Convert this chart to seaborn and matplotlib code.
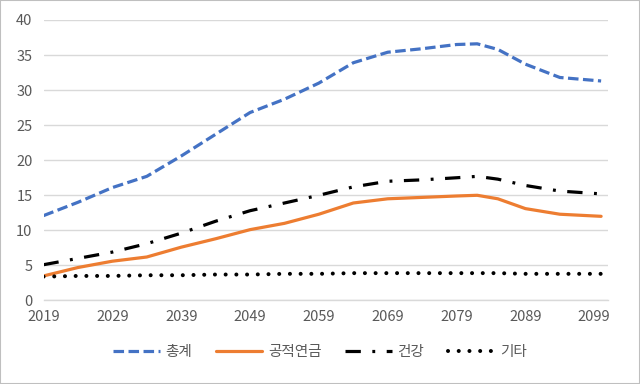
import matplotlib
matplotlib.use("Agg")
import matplotlib.pyplot as plt
import seaborn as sns
from matplotlib.patches import Rectangle

# 데이터
years = [2019, 2024, 2029, 2034, 2039, 2044, 2049, 2054, 2059,
         2064, 2069, 2074, 2079, 2082, 2085, 2089, 2094, 2100]
total = [12.1, 14.0, 16.1, 17.7, 20.6, 23.7, 26.8, 28.7, 31.0,
         33.9, 35.4, 35.9, 36.5, 36.6, 35.8, 33.7, 31.8, 31.3]
pension = [3.5, 4.7, 5.6, 6.2, 7.6, 8.8, 10.1, 11.0, 12.3,
           13.9, 14.5, 14.7, 14.9, 15.0, 14.5, 13.1, 12.3, 12.0]
health = [5.1, 6.0, 6.9, 8.1, 9.6, 11.3, 12.8, 13.9, 15.0,
          16.2, 17.0, 17.2, 17.5, 17.7, 17.3, 16.4, 15.6, 15.2]
other = [3.4, 3.5, 3.5, 3.6, 3.6, 3.7, 3.7, 3.8, 3.8,
         3.9, 3.9, 3.9, 3.9, 3.9, 3.9, 3.8, 3.8, 3.8]
xticks = list(range(2019, 2100, 10))
labels = ["총계", "공적연금", "건강", "기타"]

sns.set_style("white")
plt.rcParams['font.family'] = ['Noto Sans CJK KR', 'DejaVu Sans']

fig = plt.figure(figsize=(6.4, 3.84), dpi=100)
ax = fig.add_axes([0.068, 0.2175, 0.882, 0.7305])

grid_c = "#d9d9d9"
text_c = "#595959"

sns.lineplot(x=years, y=total, ax=ax, color="#4472C4", lw=2.3,
             linestyle=(0, (3.3, 1.4)), label=labels[0])
sns.lineplot(x=years, y=pension, ax=ax, color="#ED7D31", lw=2.3,
             label=labels[1])
sns.lineplot(x=years, y=health, ax=ax, color="black", lw=2.3,
             linestyle=(0, (4.8, 3.6, 0.9, 3.6)), label=labels[2])
sns.lineplot(x=years, y=other, ax=ax, color="black", lw=2.9,
             linestyle=(0, (0.01, 2.65)), dash_capstyle="round",
             label=labels[3])

ax.set_xlim(2019, 2101)
ax.set_ylim(0, 40)
ax.set_yticks(range(0, 41, 5))
ax.set_xticks(xticks)
ax.yaxis.grid(True, color=grid_c, lw=1)
ax.set_axisbelow(True)
for s in ["top", "right", "left"]:
    ax.spines[s].set_visible(False)
ax.spines["bottom"].set_color(grid_c)
ax.spines["bottom"].set_linewidth(1)
ax.tick_params(axis="y", length=0, pad=8, labelsize=10.5, labelcolor=text_c)
ax.tick_params(axis="x", direction="in", length=4, color=grid_c,
               pad=7, labelsize=10.5, labelcolor=text_c)
ax.set_xlabel("")
ax.set_ylabel("")

ax.get_legend().remove()
handles, labs = ax.get_legend_handles_labels()
leg = fig.legend(handles, labs, loc="center", bbox_to_anchor=(0.5, 0.083),
                 ncol=4, frameon=False, fontsize=10.5, handlelength=3.2,
                 columnspacing=1.6, handletextpad=0.4)
for t in leg.get_texts():
    t.set_color(text_c)

fig.patches.append(Rectangle((0, 0), 1, 1, transform=fig.transFigure,
                             fill=False, edgecolor="#bfbfbf", lw=1.5))

fig.savefig("out.png", dpi=100)
